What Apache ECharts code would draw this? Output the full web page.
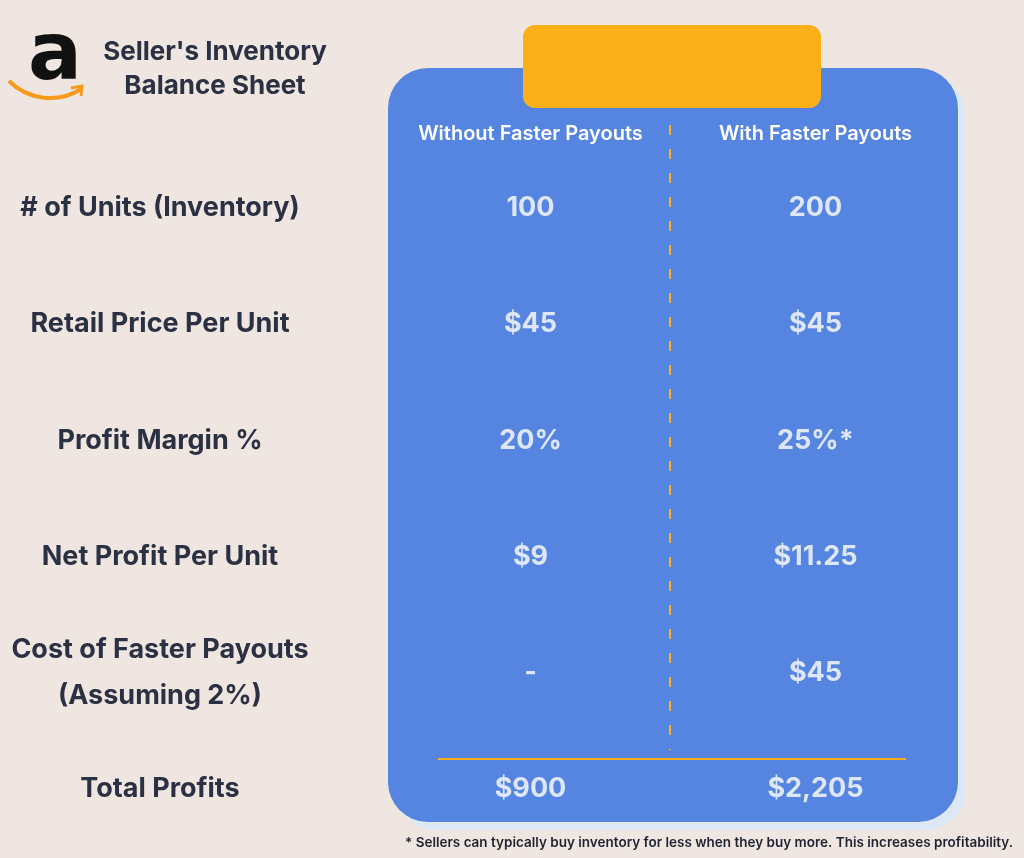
<!DOCTYPE html>
<html><head><meta charset="utf-8">
<script src="https://cdn.jsdelivr.net/npm/echarts@6/dist/echarts.min.js"></script>
<style>html,body{margin:0;background:#efe6e2}#c{width:1024px;height:858px}</style>
</head><body><div id="c"></div>
<script>
const columns = ["Without Faster Payouts", "With Faster Payouts"];
const rows = ["# of Units (Inventory)", "Retail Price Per Unit", "Profit Margin %", "Net Profit Per Unit", "Cost of Faster Payouts\n(Assuming 2%)", "Total Profits"];
const withoutValues = ["100", "$45", "20%", "$9", "-", "$900"];
const withValues = ["200", "$45", "25%*", "$11.25", "$45", "$2,205"];
const titleText = "Seller's Inventory\nBalance Sheet";
const footnote = "* Sellers can typically buy inventory for less when they buy more. This increases profitability.";

const FONT = "Inter, 'Open Sans', sans-serif";
const chart = echarts.init(document.getElementById('c'));
const mk = (col, vals) => vals.map((v, i) => ({ value: [col, i], txt: v }));
const labelStyle = { show: true, position: 'inside', formatter: p => p.data.txt, color: '#ffffff', fontSize: 27, fontWeight: 700, fontFamily: FONT };
chart.setOption({
  backgroundColor: '#efe6e2',
  animation: false,
  grid: { left: 388, right: 66, top: 150, bottom: 11 },
  xAxis: { type: 'category', data: columns, position: 'top',
    axisLine: { show: false }, axisTick: { show: false }, splitLine: { show: false },
    axisLabel: { interval: 0, color: '#ffffff', fontSize: 20, fontWeight: 600, fontFamily: FONT, margin: 6 } },
  yAxis: { type: 'category', data: rows, inverse: true,
    axisLine: { show: false }, axisTick: { show: false }, splitLine: { show: false },
    axisLabel: { interval: 0, color: '#2b3142', fontSize: 27, fontWeight: 700, fontFamily: FONT, align: 'center', margin: 228, lineHeight: 46 } },
  graphic: [
    { type: 'rect', z: -3, shape: { x: 396, y: 76, width: 570, height: 754, r: 40 }, style: { fill: '#dde8f7' } },
    { type: 'rect', z: -2, shape: { x: 388, y: 68, width: 570, height: 754, r: 40 }, style: { fill: '#5585e0' } },
    { type: 'rect', z: -1, shape: { x: 523, y: 25, width: 298, height: 83, r: 12 }, style: { fill: '#fbb01a' } },
    { type: 'line', z: -1, shape: { x1: 670, y1: 125, x2: 670, y2: 750 }, style: { stroke: '#fbb01a', lineWidth: 2, lineDash: [10, 14] } },
    { type: 'line', z: -1, shape: { x1: 438, y1: 759, x2: 906, y2: 759 }, style: { stroke: '#fbb01a', lineWidth: 2 } },
    { type: 'text', style: { text: 'a', x: 55, y: 58, fill: '#111', font: '700 80px "DejaVu Sans", sans-serif', align: 'center', verticalAlign: 'middle' } },
    { type: 'arc', shape: { cx: 50, cy: 40, r: 58, startAngle: Math.PI * 0.32, endAngle: Math.PI * 0.75 }, style: { stroke: '#f79a1c', lineWidth: 4, fill: null } },
    { type: 'polyline', shape: { points: [[71, 88], [82, 86], [81, 96]] }, style: { stroke: '#f79a1c', lineWidth: 3, fill: null } },
    { type: 'text', style: { text: titleText, x: 215, y: 69, fill: '#2b3142', font: '700 26px ' + FONT, align: 'center', verticalAlign: 'middle', lineHeight: 34 } },
    { type: 'text', style: { text: footnote, x: 1013, y: 843, fill: '#1f2230', font: '600 13.5px ' + FONT, align: 'right', verticalAlign: 'middle' } }
  ],
  series: [
    { type: 'scatter', symbolSize: 1, itemStyle: { color: 'rgba(0,0,0,0)' }, data: mk(0, withoutValues), label: labelStyle },
    { type: 'scatter', symbolSize: 1, itemStyle: { color: 'rgba(0,0,0,0)' }, data: mk(1, withValues), label: labelStyle }
  ]
});
</script></body></html>
